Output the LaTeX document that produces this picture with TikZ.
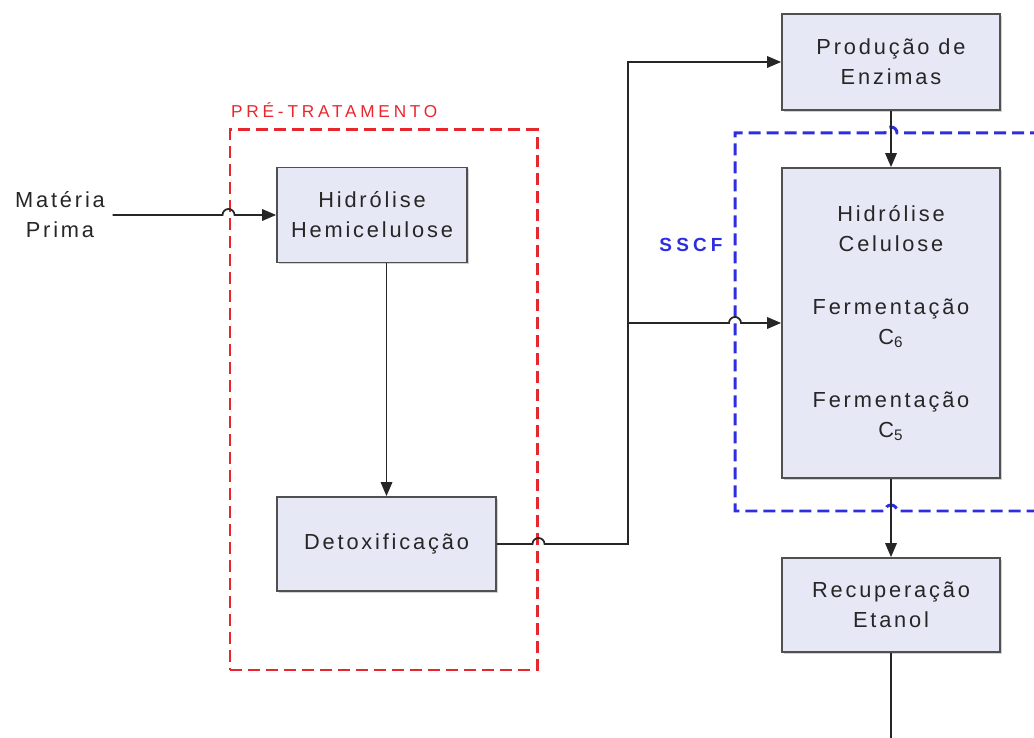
\documentclass[tikz,border=0pt]{standalone}
\usepackage{fontspec}
\usepackage{tikz}
\usetikzlibrary{calc,positioning}
\usetikzlibrary{arrows.meta,shadows}
\setmainfont{Liberation Sans}
\newfontfamily\boxfont[LetterSpace=13]{Liberation Sans}
\newfontfamily\tagfont[LetterSpace=22]{Liberation Sans}
\definecolor{boxfill}{HTML}{E6E8F5}
\definecolor{boxline}{HTML}{505050}
\definecolor{txtgray}{HTML}{262626}
\definecolor{prered}{HTML}{E8262E}
\definecolor{sscfblue}{HTML}{2E2EE0}

\begin{document}
\begin{tikzpicture}[
  etapa/.style={draw=boxline,line width=1pt,fill=boxfill,align=center,
    text=txtgray,font=\boxfont\fontsize{12.4}{17}\selectfont,
    drop shadow={shadow xshift=0.4mm,shadow yshift=-0.4mm,fill=black!35}},
  conn/.style={draw=black!85,line width=1pt,-{Triangle[length=2.8mm,width=2.3mm]}},
  fio/.style={draw=black!85,line width=1pt},
  preframe/.style={draw=prered,line width=1.7pt,dash pattern=on 2.4mm off 1.2mm},
  sscfframe/.style={draw=sscfblue,line width=1.7pt,dash pattern=on 2.4mm off 1.2mm}]
				 %\draw[color=gray,step=1mm, help lines,opacity=0.3] (0pt,0pt) grid (206mm,147mm); %help grids
				 \useasboundingbox (0mm,0mm) rectangle (206.8mm,147.6mm);
				 \def\r{1.2mm}
				 % frames
				 \node[preframe,minimum width=61.4mm,minimum height=108mm] (pre) at (76.7mm,67.6mm) {};
				 \node[anchor=west,text=prered,font=\tagfont\fontsize{9.8}{11}\selectfont] (pretxt) at (45.0mm,125.6mm) {PRÉ-TRATAMENTO};
				 \draw[sscfframe] (212mm,121mm)--($(178.2mm,121mm)+(\r,0)$) arc[start angle=0,end angle=180,radius=\r]
				 --(147mm,121mm)--(147mm,45.4mm)--($(178.2mm,45.4mm)+(-\r,0)$) arc[start angle=180,end angle=0,radius=\r]--(212mm,45.4mm);
				 \node[text=sscfblue,font=\tagfont\bfseries\fontsize{10.8}{12}\selectfont] (sscftxt) at (138.2mm,98.6mm) {SSCF};
				 % etapas
				 \node[align=center,text=txtgray,font=\boxfont\fontsize{12.4}{17}\selectfont,inner sep=1.5mm] (mp) at (12mm,104.6mm) {Matéria\\Prima};
				 \node[etapa,minimum width=38mm,minimum height=19mm] (hidr) at (74.4mm,104.6mm) {Hidrólise\\Hemicelulose};
				 \node[etapa,minimum width=43.8mm,minimum height=18.8mm] (detox) at (77.3mm,38.8mm) {Detoxificação};
				 \node[etapa,minimum width=43.6mm,minimum height=19.2mm] (prod) at (178.2mm,135.2mm) {Produção de\\Enzimas};
				 \node[etapa,minimum width=43.6mm,minimum height=62mm] (ssf) at (178.2mm,83mm)
				   {Hidrólise\\Celulose\\[6.6mm]Fermentação\\C\textsubscript{6}\\[6.6mm]Fermentação\\C\textsubscript{5}};
				 \node[etapa,minimum width=43.6mm,minimum height=18.8mm] (recup) at (178.2mm,26.6mm) {Recuperação\\Etanol};
				 \coordinate (br) at (125.6mm,38.8mm);
				 \coordinate (fim) at (178.2mm,0mm);
				 % ligacoes
				 \draw[conn] (mp.east)--($(mp.east-|pre.west)+(-\r,0)$) arc[start angle=180,end angle=0,radius=\r]--(hidr.west);
				 \draw[conn] (hidr.south-|detox.north)--(detox.north);
				 \draw[conn] (detox.east)--($(detox.east-|pre.east)+(-\r,0)$) arc[start angle=180,end angle=0,radius=\r]--(br)|-(prod.west);
				 \draw[conn] (br|-ssf.west)--($(ssf.west-|147mm,0mm)+(-\r,0)$) arc[start angle=180,end angle=0,radius=\r]--(ssf.west);
				 \draw[conn] (prod.south)--(ssf.north);
				 \draw[conn] (ssf.south)--(recup.north);
				 \draw[fio] (recup.south)--(fim);
\end{tikzpicture}
\end{document}
